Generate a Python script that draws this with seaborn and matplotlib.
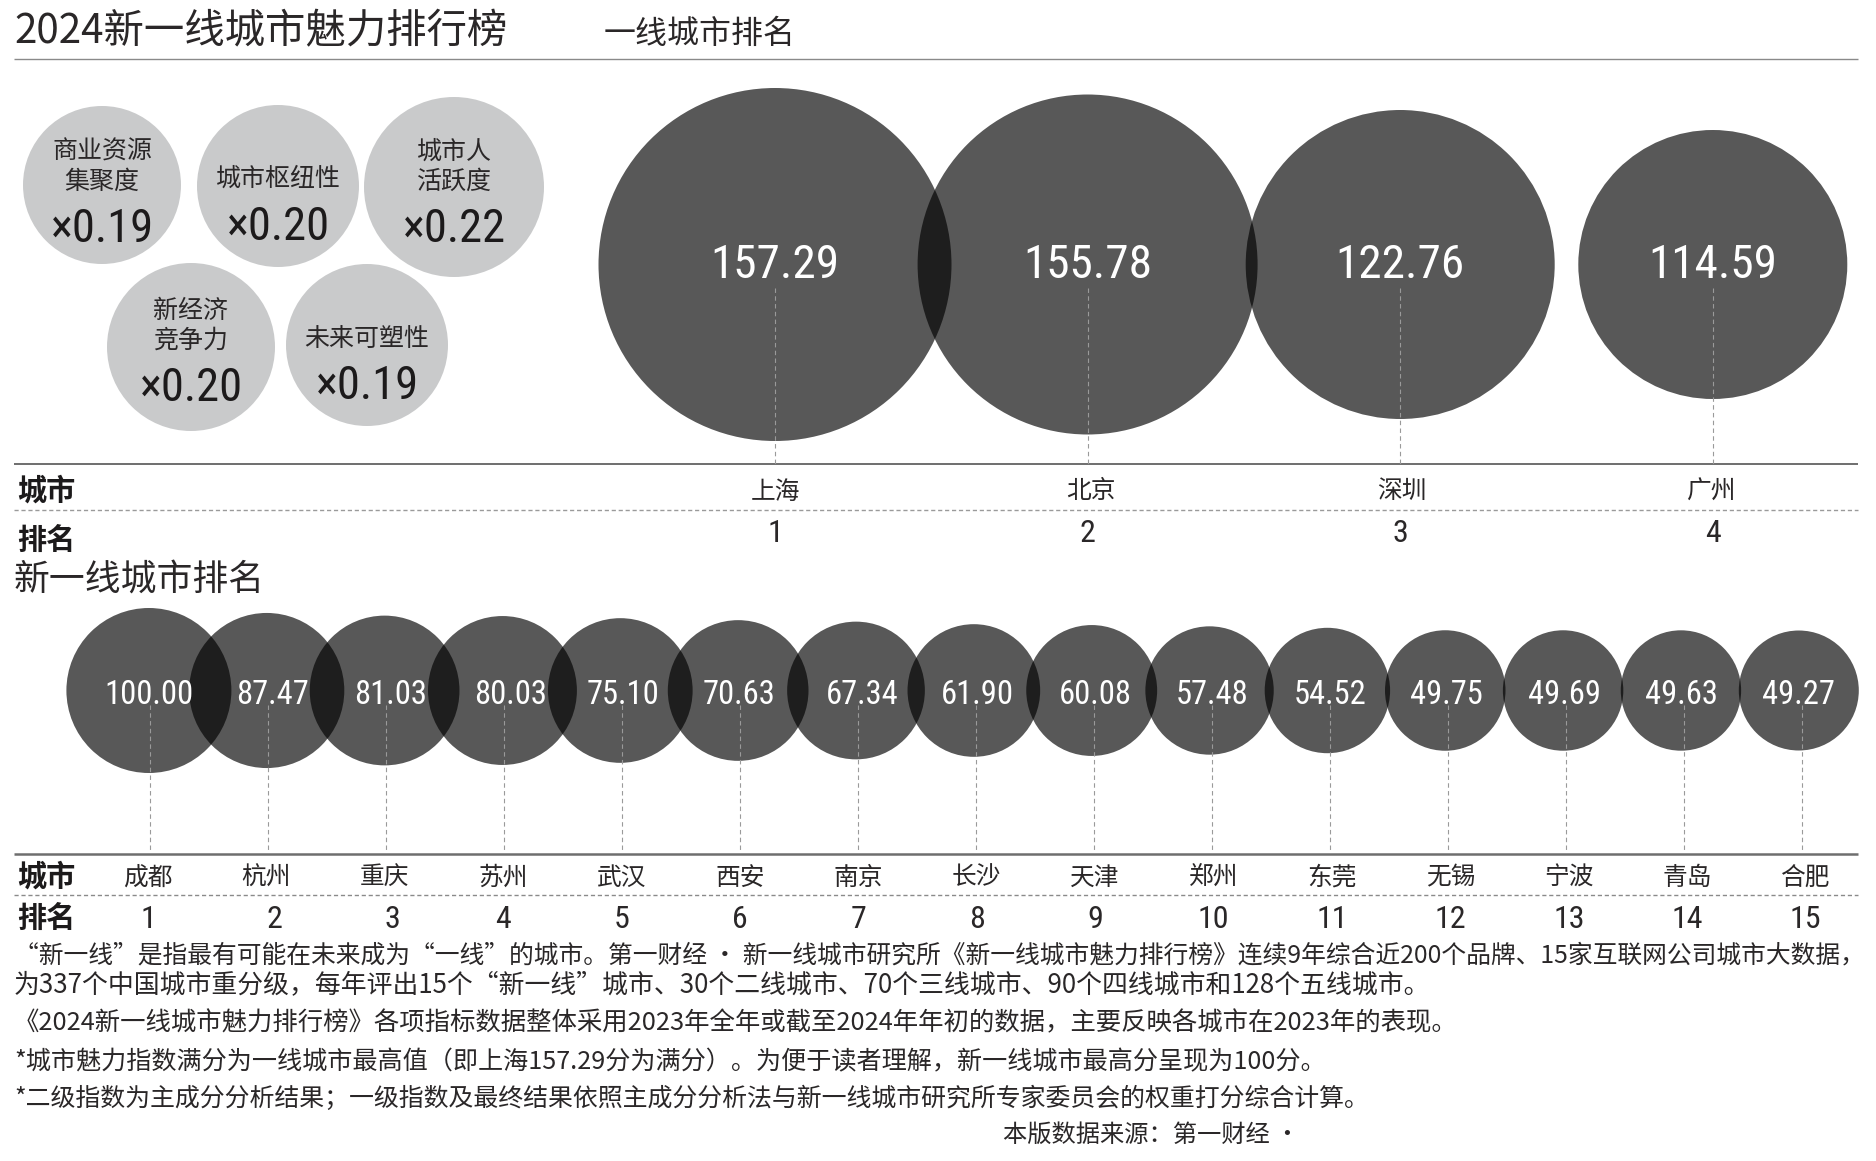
import matplotlib
matplotlib.use("Agg")
import matplotlib.pyplot as plt
import seaborn as sns
import pandas as pd

# ---------- data ----------
top_cities = ["上海", "北京", "深圳", "广州"]
top_scores = [157.29, 155.78, 122.76, 114.59]
new_cities = ["成都", "杭州", "重庆", "苏州", "武汉", "西安", "南京", "长沙", "天津", "郑州", "东莞", "无锡", "宁波", "青岛", "合肥"]
new_scores = [100.00, 87.47, 81.03, 80.03, 75.10, 70.63, 67.34, 61.90, 60.08, 57.48, 54.52, 49.75, 49.69, 49.63, 49.27]
weight_names = ["商业资源\n集聚度", "城市枢纽性", "城市人\n活跃度", "新经济\n竞争力", "未来可塑性"]
weight_values = [0.19, 0.20, 0.22, 0.20, 0.19]
notes = [
    "“新一线”是指最有可能在未来成为“一线”的城市。第一财经 · 新一线城市研究所《新一线城市魅力排行榜》连续9年综合近200个品牌、15家互联网公司城市大数据，",
    "为337个中国城市重分级，每年评出15个“新一线”城市、30个二线城市、70个三线城市、90个四线城市和128个五线城市。",
    "《2024新一线城市魅力排行榜》各项指标数据整体采用2023年全年或截至2024年年初的数据，主要反映各城市在2023年的表现。",
    "*城市魅力指数满分为一线城市最高值（即上海157.29分为满分）。为便于读者理解，新一线城市最高分呈现为100分。",
    "*二级指数为主成分分析结果；一级指数及最终结果依照主成分分析法与新一线城市研究所专家委员会的权重打分综合计算。",
    "本版数据来源：第一财经 ·",
]

# ---------- layout (pixels of the 1876x1161 canvas) ----------
W, H = 1876, 1161
CJK = ["Noto Sans CJK SC", "DejaVu Sans"]
NUM = ["Roboto Condensed", "DejaVu Sans"]
TEXT = "#2a2728"
CJK_SHIFT = 2.5


def s_from_r(r):
    return (2 * r * 72 / 100) ** 2


sns.set_theme(style="white")
plt.rcParams["font.family"] = CJK
plt.rcParams["axes.unicode_minus"] = False

fig = plt.figure(figsize=(W / 100, H / 100), dpi=100, facecolor="white")


def make_ax():
    a = fig.add_axes([0, 0, 1, 1], facecolor="none")
    a.set_axis_off()
    return a


def frame(a, x0=None, dx=None):
    a.set_ylim(H, 0)
    if x0 is None:
        a.set_xlim(0, W)
    else:
        a.set_xlim(1 - x0 / dx, 1 + (W - x0) / dx)


bg = make_ax()
frame(bg)


def t(x, y, s, size, ha="left", color=TEXT, weight="normal", family=CJK, ax=bg, **kw):
    if family is CJK:
        y = y + CJK_SHIFT
    ax.text(x, y, s, fontsize=size, ha=ha, va="center", color=color,
            fontweight=weight, family=family, **kw)


# header
t(14, 29, "2024新一线城市魅力排行榜", 29.1)
t(604, 31, "一线城市排名", 23)
bg.hlines(59, 14, 1858, color="#8a8a8a", lw=1)

# weight bubbles
w_x = [102, 278, 454, 191, 367]
w_y = [185, 186, 187, 347, 345]
w_r = [79, 81, 90, 84, 81]
w_df = pd.DataFrame({"x": w_x, "y": w_y, "name": weight_names, "w": weight_values})
sns.scatterplot(data=w_df, x="x", y="y", size="name",
                sizes={n: s_from_r(r) for n, r in zip(weight_names, w_r)},
                color="#c9cacb", linewidth=0, legend=False, ax=bg)
frame(bg)
bg.set_xlabel(""); bg.set_ylabel("")
w_label_y = [164, 176, 164, 323, 337]
w_value_y = [229, 227, 229, 388, 386]
for x, ly, vy, n, v in zip(w_x, w_label_y, w_value_y, weight_names, weight_values):
    t(x, ly, n, 18, ha="center", linespacing=1.2)
    t(x, vy, f"×{v:.2f}", 33.5, ha="center", family=NUM, color="#1c1a1b")

# first-tier bubbles
top_ranks = list(range(1, len(top_scores) + 1))
ax_top = make_ax()
top_r = [176.5, 170, 154.5, 134.5]
top_df = pd.DataFrame({"rank": top_ranks, "y": [264.5] * 4, "score": top_scores})
sns.scatterplot(data=top_df, x="rank", y="y", size="score",
                sizes={v: s_from_r(r) for v, r in zip(top_scores, top_r)},
                color="black", alpha=0.655, linewidth=0, legend=False, ax=ax_top)
frame(ax_top, 775, 312.6)
ax_top.vlines(top_ranks, 288, 464, color="#9a9a9a", lw=0.8, linestyles=(0, (4, 3)))
top_city_dx = [0, 0.011, 0.004, -0.008]
for r, v, c, d in zip(top_ranks, top_scores, top_cities, top_city_dx):
    t(r, 265, f"{v:.2f}", 34, ha="center", color="white", family=NUM, ax=ax_top)
    t(r + d, 489, c, 17.8, ha="center", ax=ax_top)
    t(r, 533.5, str(r), 23, ha="center", family=NUM, ax=ax_top)

bg.hlines(464, 14, 1858, color="#555555", lw=1.2)
bg.hlines(510, 14, 1858, color="#9a9a9a", lw=1, linestyles=(0, (3, 2)))
t(17, 488, "城市", 21, weight="black", color="#1c1a1b")
t(17, 537, "排名", 21, weight="black", color="#1c1a1b")
t(14, 578, "新一线城市排名", 25.8)

# new first-tier bubbles
new_ranks = list(range(1, len(new_scores) + 1))
ax_new = make_ax()
new_df = pd.DataFrame({"rank": new_ranks, "y": [690.5] * 15, "score": new_scores})
sns.scatterplot(data=new_df, x="rank", y="y", size="score",
                sizes=(s_from_r(60), s_from_r(82.5)), size_norm=(49.27, 100),
                color="black", alpha=0.655, linewidth=0, legend=False, ax=ax_new)
frame(ax_new, 148.9, 117.85)
leader_x = [r + 0.6 / 117.85 + (r - 1) * 0.15 / 117.85 for r in new_ranks]
ax_new.vlines(leader_x, 705, 853, color="#9a9a9a", lw=0.8, linestyles=(0, (4, 3)))
label_dx = [0, 6, 6, 8, 2.5, 1, 6, 3.5, 3.5, 2.5, 2.5, 1, 1, 0, 0]
for r, v, d in zip(new_ranks, new_scores, label_dx):
    t(r + d / 117.85, 694.5, f"{v:.2f}", 23.5, ha="center", color="white", family=NUM, ax=ax_new)

bg.hlines(854, 14, 1858, color="#6e6e6e", lw=1.8)
bg.hlines(895, 14, 1858, color="#8a8a8a", lw=1, linestyles=(0, (3, 2)))
t(17, 874, "城市", 21, weight="black", color="#1c1a1b")
t(17, 915, "排名", 21, weight="black", color="#1c1a1b")
rank_dx = {2: 8, 3: 8}
for r, c in zip(new_ranks, new_cities):
    x = 148 + 118.4 * (r - 1)
    t(x, 875, c, 17.8, ha="center")
    t(x + rank_dx.get(r, 0), 919.5, str(r), 23, ha="center", family=NUM)

# notes
note_y = [953, 982, 1021, 1060, 1096]
note_size = [17.85, 18.6, 18.3, 18.1, 17.95]
for y, n, fs in zip(note_y, notes[:5], note_size):
    t(14, y, n, fs)
t(1003, 1132, notes[5], 17.5)

fig.savefig("out.png", dpi=100, facecolor="white")
